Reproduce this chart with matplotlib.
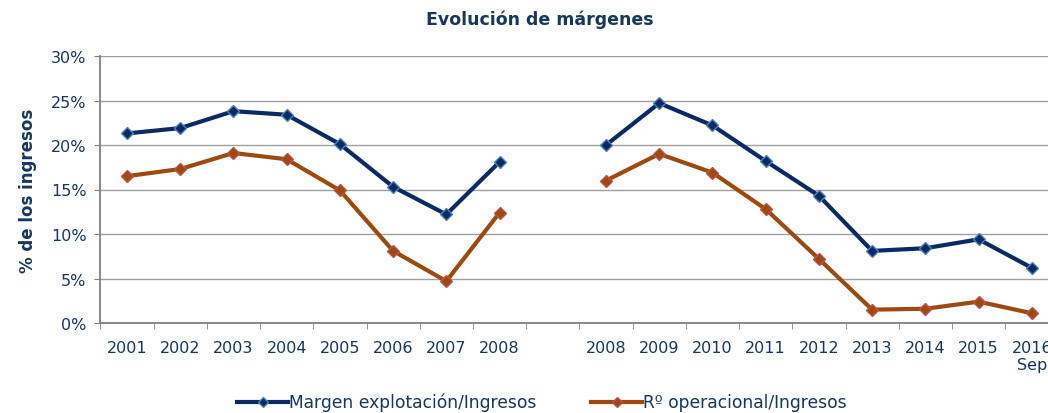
import numpy as np
import matplotlib.pyplot as plt

# categories (one empty slot separates the two periods)
years = ["2001", "2002", "2003", "2004", "2005", "2006", "2007", "2008", "",
         "2008", "2009", "2010", "2011", "2012", "2013", "2014", "2015", "2016\nSep"]

margen_expl = [21.3, 21.9, 23.8, 23.4, 20.1, 15.3, 12.2, 18.1, np.nan,
               20.0, 24.7, 22.2, 18.2, 14.3, 8.1, 8.4, 9.4, 6.2]
r_operacional = [16.5, 17.3, 19.1, 18.4, 14.9, 8.1, 4.7, 12.4, np.nan,
                 16.0, 19.0, 16.9, 12.8, 7.2, 1.5, 1.6, 2.4, 1.1]

navy = "#0b2a63"
text_col = "#17375e"
orange = "#9c4a0e"

fig = plt.figure(figsize=(10.48, 4.14), dpi=100)
ax = fig.add_axes([100.4 / 1048, 90 / 414, 958 / 1048, 267 / 414])

x = np.arange(len(years))
ax.plot(x, margen_expl, color=navy, lw=3.0, marker="D", ms=6.5,
        mfc=navy, mec="#4f81bd", mew=1.0, label="Margen explotación/Ingresos")
ax.plot(x, r_operacional, color=orange, lw=3.0, marker="D", ms=6.5,
        mfc=orange, mec="#c0504d", mew=1.0, label="Rº operacional/Ingresos")

ax.set_xlim(-0.5, len(years) - 0.5)
ax.set_ylim(0, 30)
ax.set_yticks(range(0, 31, 5))
ax.set_yticklabels([f"{v}%" for v in range(0, 31, 5)])
ax.yaxis.grid(True, color="#a0a0a0", lw=1.0)
ax.set_axisbelow(True)

ax.set_xticks(x)
ax.set_xticklabels(years, multialignment="center")
ax.set_xticks(np.arange(-0.5, len(years), 1), minor=True)
ax.tick_params(axis="x", which="major", length=0, pad=12)
ax.tick_params(axis="x", which="minor", length=4, color="#808080", direction="out")
ax.tick_params(axis="y", length=4, color="#808080", direction="out", pad=6)
ax.tick_params(labelsize=11.5, labelcolor=text_col)

for s in ["top", "right"]:
    ax.spines[s].set_visible(False)
for s in ["left", "bottom"]:
    ax.spines[s].set_color("#808080")
    ax.spines[s].set_linewidth(1.3)

ax.set_ylabel("% de los ingresos", fontsize=12, fontweight="bold", color=text_col, labelpad=10)
fig.text(0.515, 1 - 20 / 414, "Evolución de márgenes", ha="center", va="center",
         fontsize=12.5, fontweight="bold", color=text_col)

leg = fig.legend(loc="center", bbox_to_anchor=(0.517, 0.026), ncol=2, frameon=False,
                 fontsize=12.3, handlelength=3.0, columnspacing=3.2, handletextpad=0.05,
                 markerscale=0.8)
for t in leg.get_texts():
    t.set_color(text_col)

fig.savefig("out.png", dpi=100)
